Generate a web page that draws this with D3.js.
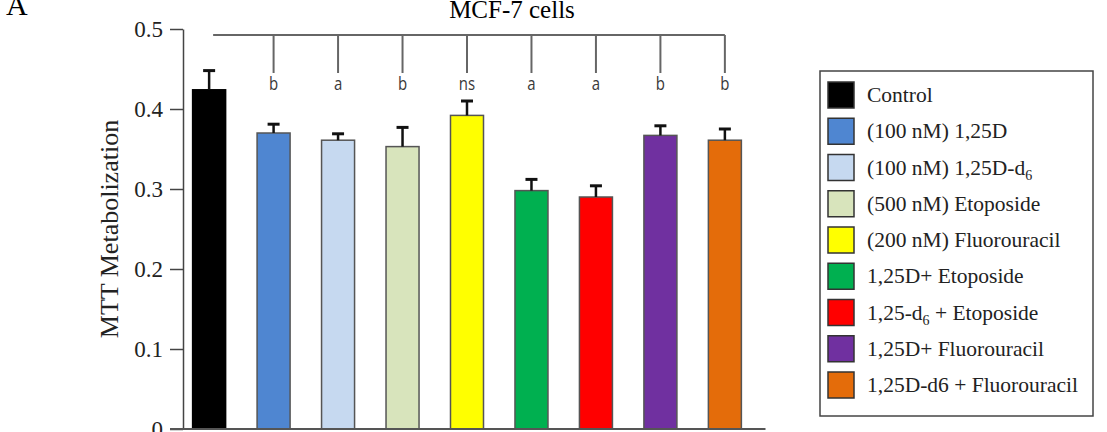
<!DOCTYPE html>
<html>
<head>
<meta charset="utf-8">
<script src="https://cdn.jsdelivr.net/npm/d3@7"></script>
<style>
  body { margin: 0; background: #fff; }
  svg { display: block; }
</style>
</head>
<body>
<div id="main"></div>
<script>
// DATA
const categories = ['Control', '1,25D', '1,25D-d6', 'Etoposide', 'Fluorouracil',
  '1,25D+Etoposide', '1,25-d6+Etoposide', '1,25D+Fluorouracil', '1,25D-d6+Fluorouracil']
const means = [0.424, 0.370, 0.361, 0.353, 0.392, 0.298, 0.290, 0.367, 0.361]
const errors = [0.024, 0.011, 0.008, 0.024, 0.018, 0.014, 0.014, 0.012, 0.014]
const signif = ['', 'b', 'a', 'b', 'ns', 'a', 'a', 'b', 'b']
const colors = ['#000000', '#4f86d1', '#c6d9f0', '#d8e4bc', '#ffff00',
  '#00b050', '#ff0000', '#7030a0', '#e46c0a']
// legend labels: [main text, subscript, rest]
const legendLabels = [
  ['Control', '', ''],
  ['(100 nM) 1,25D', '', ''],
  ['(100 nM) 1,25D-d', '6', ''],
  ['(500 nM) Etoposide', '', ''],
  ['(200 nM) Fluorouracil', '', ''],
  ['1,25D+ Etoposide', '', ''],
  ['1,25-d', '6', ' + Etoposide'],
  ['1,25D+ Fluorouracil', '', ''],
  ['1,25D-d6 + Fluorouracil', '', '']
]
const yTicks = [0, 0.1, 0.2, 0.3, 0.4, 0.5]

const W = 1107, H = 432
const serif = '"Liberation Serif", "Times New Roman", serif'

const svg = d3.select('#main').append('svg')
  .attr('width', W).attr('height', H)

// Scales
const y = d3.scaleLinear().domain([0, 0.5]).range([429, 29])
const x = d3.scaleBand().domain(categories)
  .range([176.5, 757.5]).paddingInner(0.488).paddingOuter(0.25)
const bw = x.bandwidth()

// Panel letter
svg.append('text').attr('x', 6).attr('y', 15)
  .style('font-family', serif).style('font-size', '30px')
  .text('A')

// Title
svg.append('text').attr('x', 512).attr('y', 18)
  .attr('text-anchor', 'middle')
  .style('font-family', serif).style('font-size', '25px')
  .text('MCF-7 cells')

// Y axis
const yAxis = d3.axisLeft(y)
  .tickValues(yTicks)
  .tickSize(13).tickSizeOuter(0).tickPadding(7)
  .tickFormat(d => d === 0 ? '0' : d.toFixed(1))

const gy = svg.append('g').attr('transform', 'translate(183,0)').call(yAxis)
gy.select('.domain').attr('stroke', '#444').attr('stroke-width', 1.5)
gy.selectAll('.tick line').attr('stroke', '#444').attr('stroke-width', 1.5)
gy.selectAll('.tick text')
  .style('font-family', serif).style('font-size', '23px').attr('fill', '#222')

// Y label
svg.append('text')
  .attr('transform', `translate(118,${(y(0) + y(0.5)) / 2}) rotate(-90)`)
  .attr('text-anchor', 'middle')
  .style('font-family', serif).style('font-size', '26px').attr('fill', '#222')
  .text('MTT Metabolization')

// Bars
svg.selectAll('rect.bar')
  .data(categories)
  .join('rect')
    .attr('class', 'bar')
    .attr('x', d => x(d))
    .attr('y', (d, i) => y(means[i]))
    .attr('width', bw)
    .attr('height', (d, i) => y(0) - y(means[i]))
    .attr('fill', (d, i) => colors[i])
    .attr('stroke', (d, i) => i === 0 ? '#000' : '#555')
    .attr('stroke-width', 1.5)

// Error bars (upper only)
const err = svg.append('g').attr('stroke', '#111')
err.selectAll('line.stem')
  .data(categories)
  .join('line')
    .attr('class', 'stem')
    .attr('x1', d => x(d) + bw / 2).attr('x2', d => x(d) + bw / 2)
    .attr('y1', (d, i) => y(means[i])).attr('y2', (d, i) => y(means[i] + errors[i]))
    .attr('stroke-width', 2.5)
err.selectAll('line.cap')
  .data(categories)
  .join('line')
    .attr('class', 'cap')
    .attr('x1', d => x(d) + bw / 2 - 6).attr('x2', d => x(d) + bw / 2 + 6)
    .attr('y1', (d, i) => y(means[i] + errors[i])).attr('y2', (d, i) => y(means[i] + errors[i]))
    .attr('stroke-width', 3)

// X axis baseline
svg.append('line')
  .attr('x1', 170).attr('x2', x.range()[1] + 8)
  .attr('y1', y(0)).attr('y2', y(0))
  .attr('stroke', '#555').attr('stroke-width', 2)

// Significance bracket
const bracketY = 35
const cx = d => x(d) + bw / 2
const br = svg.append('g').attr('stroke', '#666').attr('stroke-width', 2)
br.append('line')
  .attr('x1', cx(categories[0]) + 4).attr('x2', cx(categories[categories.length - 1]))
  .attr('y1', bracketY).attr('y2', bracketY)
br.selectAll('line.drop')
  .data(categories.slice(1))
  .join('line')
    .attr('class', 'drop')
    .attr('x1', cx).attr('x2', cx)
    .attr('y1', bracketY).attr('y2', 73)

// letters are slightly stretched vertically in the original
svg.selectAll('text.sig')
  .data(categories)
  .join('text')
    .attr('class', 'sig')
    .attr('transform', d => `translate(${cx(d)},90) scale(1,1.2)`)
    .attr('text-anchor', 'middle')
    .style('font-family', '"Open Sans", sans-serif')
    .style('font-size', '15px')
    .attr('fill', '#3a3a3a')
    .text((d, i) => signif[i])

// Legend
const legend = svg.append('g')
legend.append('rect')
  .attr('x', 820).attr('y', 71).attr('width', 273).attr('height', 345)
  .attr('fill', '#fff').attr('stroke', '#444').attr('stroke-width', 1.5)

const rowY = d3.scaleLinear().domain([0, 8]).range([95, 385])
const rows = legend.selectAll('g.row')
  .data(legendLabels)
  .join('g')
    .attr('class', 'row')
    .attr('transform', (d, i) => `translate(0,${rowY(i)})`)
rows.append('rect')
  .attr('x', 828).attr('y', -13).attr('width', 26).attr('height', 26)
  .attr('fill', (d, i) => colors[i])
  .attr('stroke', '#333').attr('stroke-width', 1.5)
const lt = rows.append('text')
  .attr('x', 867).attr('y', 7)
  .style('font-family', serif).style('font-size', '21.5px').attr('fill', '#222')
lt.append('tspan').text(d => d[0])
lt.filter(d => d[1] !== '').append('tspan')
  .attr('dy', 5).style('font-size', '14px').text(d => d[1])
lt.filter(d => d[2] !== '').append('tspan')
  .attr('dy', -5).text(d => d[2])
</script>
</body>
</html>
